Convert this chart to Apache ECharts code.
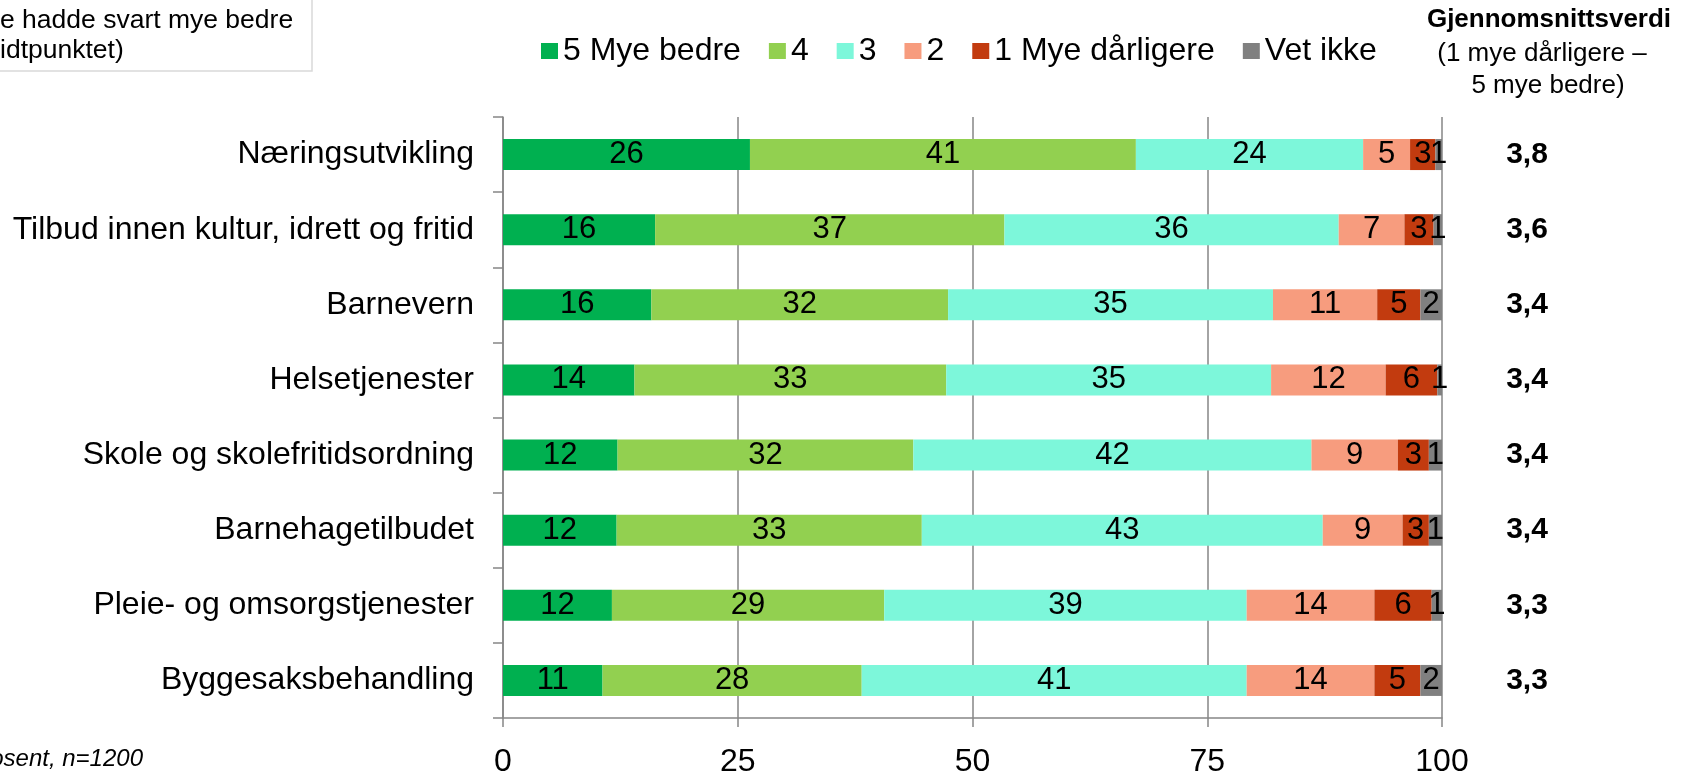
<!DOCTYPE html>
<html>
<head>
<meta charset="utf-8">
<script src="https://cdn.jsdelivr.net/npm/echarts@6/dist/echarts.min.js"></script>
<style>
  html, body { margin: 0; padding: 0; background: #fff; }
  #chart { width: 1681px; height: 778px; }
</style>
</head>
<body>
<div id="chart"></div>
<script>
// kategorier, ovenfra og ned
var categories = [
  "Næringsutvikling",
  "Tilbud innen kultur, idrett og fritid",
  "Barnevern",
  "Helsetjenester",
  "Skole og skolefritidsordning",
  "Barnehagetilbudet",
  "Pleie- og omsorgstjenester",
  "Byggesaksbehandling"
];
var seriesNames = ["5 Mye bedre", "4", "3", "2", "1 Mye dårligere", "Vet ikke"];
var seriesColors = ["#00B050", "#92D050", "#7DF7DA", "#F79C7E", "#C23B0F", "#808080"];

// prosent per svaralternativ (lest av figuren)
var myeBedre = [26.3, 16.2, 15.8, 14.0, 12.2, 12.1, 11.6, 10.6];
var fire = [41.1, 37.2, 31.6, 33.2, 31.5, 32.5, 29.0, 27.6];
var tre = [24.2, 35.6, 34.6, 34.6, 42.4, 42.7, 38.6, 41.0];
var to = [5.0, 7.0, 11.1, 12.2, 9.2, 8.5, 13.6, 13.6];
var myeDarligere = [2.7, 3.1, 4.6, 5.5, 3.3, 2.8, 6.1, 4.9];
var vetIkke = [0.7, 0.9, 2.3, 0.5, 1.4, 1.4, 1.1, 2.3];

var means = ["3,8", "3,6", "3,4", "3,4", "3,4", "3,4", "3,3", "3,3"];
var xTicks = [0, 25, 50, 75, 100];

var FONT = "'Liberation Sans', Arial, sans-serif";
var allData = [myeBedre, fire, tre, to, myeDarligere, vetIkke];

var myChart = echarts.init(document.getElementById("chart"));

var series = seriesNames.map(function (name, i) {
  return {
    name: name,
    type: "bar",
    stack: "total",
    barWidth: 31,
    yAxisIndex: 0,
    itemStyle: { color: seriesColors[i] },
    label: {
      show: true,
      position: "inside",
      color: "#000",
      fontSize: 31,
      fontFamily: FONT,
      formatter: function (p) {
        return Math.round(p.value);
      }
    },
    data: allData[i]
  };
});

var option = {
  animation: false,
  textStyle: { fontFamily: FONT },
  legend: {
    left: 536,
    top: 30,
    itemWidth: 17,
    itemHeight: 16,
    itemGap: 28,
    icon: "rect",
    textStyle: { fontSize: 32, color: "#000", fontFamily: FONT },
    data: seriesNames
  },
  grid: {
    left: 503,
    right: 239,
    top: 117,
    bottom: 54,
    containLabel: false
  },
  xAxis: {
    type: "value",
    min: xTicks[0],
    max: xTicks[xTicks.length - 1],
    interval: xTicks[1] - xTicks[0],
    axisLine: { show: true, lineStyle: { color: "#868686", width: 1.5 } },
    axisTick: { show: true, length: 9, lineStyle: { color: "#868686", width: 1.5 } },
    splitLine: { show: true, lineStyle: { color: "#868686", width: 1.5 } },
    axisLabel: { fontSize: 32, color: "#000", margin: 28, fontFamily: FONT }
  },
  yAxis: [
    {
      type: "category",
      inverse: true,
      data: categories,
      axisLine: { show: true, lineStyle: { color: "#868686", width: 1.5 } },
      axisTick: { show: true, length: 10, lineStyle: { color: "#868686", width: 1.5 } },
      axisLabel: { fontSize: 32, color: "#000", margin: 29, fontFamily: FONT }
    },
    {
      // gjennomsnittsverdi til høyre
      type: "category",
      inverse: true,
      position: "right",
      data: categories,
      axisLine: { show: false },
      axisTick: { show: false },
      splitLine: { show: false },
      axisLabel: {
        fontSize: 30,
        fontWeight: "bold",
        color: "#000",
        align: "center",
        margin: 85,
        fontFamily: FONT,
        formatter: function (value, index) {
          return means[index];
        }
      }
    }
  ],
  graphic: [
    {
      type: "rect",
      shape: { x: -10, y: -10, width: 322, height: 81 },
      style: { fill: "none", stroke: "#D9D9D9", lineWidth: 1.5 }
    },
    {
      type: "text",
      x: 0, y: 21,
      style: { text: "e hadde svart mye bedre", font: "26.5px " + FONT, fill: "#000", align: "left", verticalAlign: "middle" }
    },
    {
      type: "text",
      x: 0, y: 51,
      style: { text: "idtpunktet)", font: "26.5px " + FONT, fill: "#000", align: "left", verticalAlign: "middle" }
    },
    {
      type: "text",
      x: 143, y: 759,
      style: { text: "Prosent, n=1200", font: "italic 24px " + FONT, fill: "#000", align: "right", verticalAlign: "middle" }
    },
    {
      type: "text",
      x: 1549, y: 20,
      style: { text: "Gjennomsnittsverdi", font: "bold 26px " + FONT, fill: "#000", align: "center", verticalAlign: "middle" }
    },
    {
      type: "text",
      x: 1542, y: 54,
      style: { text: "(1 mye dårligere –", font: "26px " + FONT, fill: "#000", align: "center", verticalAlign: "middle" }
    },
    {
      type: "text",
      x: 1548, y: 86,
      style: { text: "5 mye bedre)", font: "26px " + FONT, fill: "#000", align: "center", verticalAlign: "middle" }
    }
  ],
  series: series
};

myChart.setOption(option);
</script>
</body>
</html>
